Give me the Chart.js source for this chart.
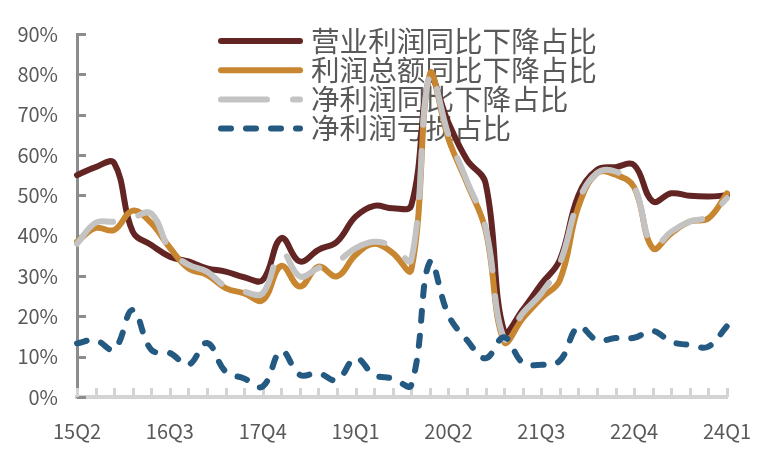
<!DOCTYPE html>
<html>
<head>
<meta charset="utf-8">
<script src="https://cdn.jsdelivr.net/npm/chart.js@4.4.1/dist/chart.umd.min.js"></script>
<style>
html, body { margin: 0; padding: 0; background: #fff; }
</style>
</head>
<body>
<canvas id="myChart" width="776" height="458"></canvas>
<script>
// categorias (trimestres)
const quarters = ['15Q2','15Q3','15Q4','16Q1','16Q2','16Q3','16Q4','17Q1','17Q2','17Q3','17Q4','18Q1',
    '18Q2','18Q3','18Q4','19Q1','19Q2','19Q3','19Q4','20Q1','20Q2','20Q3','20Q4','21Q1',
    '21Q2','21Q3','21Q4','22Q1','22Q2','22Q3','22Q4','23Q1','23Q2','23Q3','23Q4','24Q1'];

// series (%)
const yingyeLirun = [55, 57, 58, 41, 37.7, 34.8, 33.6, 31.9, 31.1, 29.7, 29, 39.4,
    33.6, 36.5, 38.5, 44.7, 47.4, 46.8, 47.5, 79, 68, 58.8, 53, 16.2,
    21.6, 28, 34, 50, 56.3, 57, 57.5, 48.5, 50.5, 49.9, 49.7, 50];
const lirunZonge = [38.5, 41.9, 41.4, 46.2, 43.1, 37, 31.9, 30.3, 27, 25.7, 24, 32.5,
    27.4, 32.3, 29.9, 35.2, 38, 35.7, 31.5, 80, 64, 53, 41.4, 13.7,
    19.5, 24.5, 29, 47.2, 55.5, 55.1, 52, 36.9, 40.6, 43.5, 44.3, 50.5];
const jinglirun = [38, 43.2, 43.5, 44.5, 45.5, 36.5, 32.8, 31.1, 27.4, 26.1, 25.7, 36,
    29.9, 32, 33.6, 36.9, 38.5, 37.3, 34, 80, 65, 53.5, 42, 14.5,
    20.8, 25.7, 33.2, 48.5, 55.5, 55.9, 52.2, 37.3, 41, 43.5, 44.7, 49.3];
const kuisun = [13.3, 14.1, 11.8, 21.6, 11.7, 10.9, 8, 13.4, 6.3, 4.6, 2.6, 11.4,
    5.5, 5.9, 4.2, 9.6, 5.5, 4.6, 3, 33.5, 20.3, 14.1, 9.6, 14.8,
    8.5, 8, 9, 17.4, 14.1, 14.6, 14.7, 16.4, 13.7, 12.9, 12.5, 17.6];

// etiquetas del eje y
const yTicks = [0, 10, 20, 30, 40, 50, 60, 70, 80, 90];

const fontFamily = '"Noto Sans CJK SC", "Noto Sans", sans-serif';

// marcas cortas hacia dentro de los ejes
const axisTicks = {
    id: 'axisTicks',
    beforeDatasetsDraw(chart) {
        const { ctx, chartArea, scales } = chart;
        ctx.save();
        ctx.lineWidth = 3;
        ctx.strokeStyle = '#8c8c8c';
        yTicks.forEach(v => {
            const y = Math.round(scales.y.getPixelForValue(v)) + 0.5;
            ctx.beginPath();
            ctx.moveTo(chartArea.left, y);
            ctx.lineTo(chartArea.left + 9, y);
            ctx.stroke();
        });
        ctx.strokeStyle = '#d3d3d3';
        quarters.forEach((q, i) => {
            const x = Math.round(scales.x.getPixelForValue(i)) + 0.5;
            ctx.beginPath();
            ctx.moveTo(x, chartArea.bottom);
            ctx.lineTo(x, chartArea.bottom - 9);
            ctx.stroke();
        });
        ctx.restore();
    }
};

// leyenda dibujada a mano dentro del area
const legendBox = {
    id: 'legendBox',
    beforeDatasetsDraw(chart) {
        const ctx = chart.ctx;
        ctx.save();
        chart.data.datasets.forEach((ds, i) => {
            const y = 41 + i * 29.2;
            ctx.beginPath();
            ctx.setLineDash(ds.borderDash || []);
            ctx.lineCap = 'round';
            ctx.lineWidth = 6;
            ctx.strokeStyle = ds.borderColor;
            ctx.moveTo(221, y);
            ctx.lineTo(300, y);
            ctx.stroke();
            ctx.setLineDash([]);
            ctx.fillStyle = '#595959';
            ctx.font = '28.6px ' + fontFamily;
            ctx.textBaseline = 'middle';
            ctx.fillText(ds.label, 311, y);
        });
        ctx.restore();
    }
};

var canvas = document.getElementById('myChart');
if (canvas) {
    var ctx = canvas.getContext('2d');
    var chart = new Chart(ctx, {
        type: 'line',
        data: {
            labels: quarters,
            datasets: [
                {
                    label: '营业利润同比下降占比',
                    data: yingyeLirun,
                    borderColor: '#632523',
                    order: 4
                },
                {
                    label: '利润总额同比下降占比',
                    data: lirunZonge,
                    borderColor: '#C7862F',
                    order: 3
                },
                {
                    label: '净利润同比下降占比',
                    data: jinglirun,
                    borderColor: '#C3C3C3',
                    borderDash: [46, 26],
                    order: 2
                },
                {
                    label: '净利润亏损占比',
                    data: kuisun,
                    borderColor: '#245A82',
                    borderDash: [10, 15],
                    order: 1
                }
            ]
        },
        options: {
            responsive: false,
            animation: false,
            layout: { padding: { left: 0, right: 49, top: 34, bottom: 0 } },
            plugins: {
                legend: { display: false },
                tooltip: { enabled: false }
            },
            elements: {
                point: { radius: 0 },
                line: {
                    tension: 0.4,
                    borderWidth: 6,
                    borderCapStyle: 'round',
                    borderJoinStyle: 'round',
                    fill: false
                }
            },
            scales: {
                x: {
                    offset: false,
                    grid: { display: false, drawTicks: false },
                    border: { display: true, color: '#d3d3d3', width: 4 },
                    ticks: {
                        autoSkip: false,
                        maxRotation: 0,
                        padding: 22,
                        color: '#595959',
                        font: { family: fontFamily, size: 20 },
                        callback: function (v, i) { return i % 5 === 0 ? quarters[i] : ''; }
                    },
                    afterFit: function (s) { s.height = 61; }
                },
                y: {
                    min: 0,
                    max: 90,
                    grid: { display: false, drawTicks: false },
                    border: { display: true, color: '#8c8c8c', width: 3 },
                    ticks: {
                        stepSize: 10,
                        padding: 19,
                        color: '#595959',
                        font: { family: fontFamily, size: 20 },
                        callback: function (v) { return v + '%'; }
                    },
                    afterFit: function (s) { s.width = 77; }
                }
            }
        },
        plugins: [axisTicks, legendBox]
    });
}
</script>
</body>
</html>
